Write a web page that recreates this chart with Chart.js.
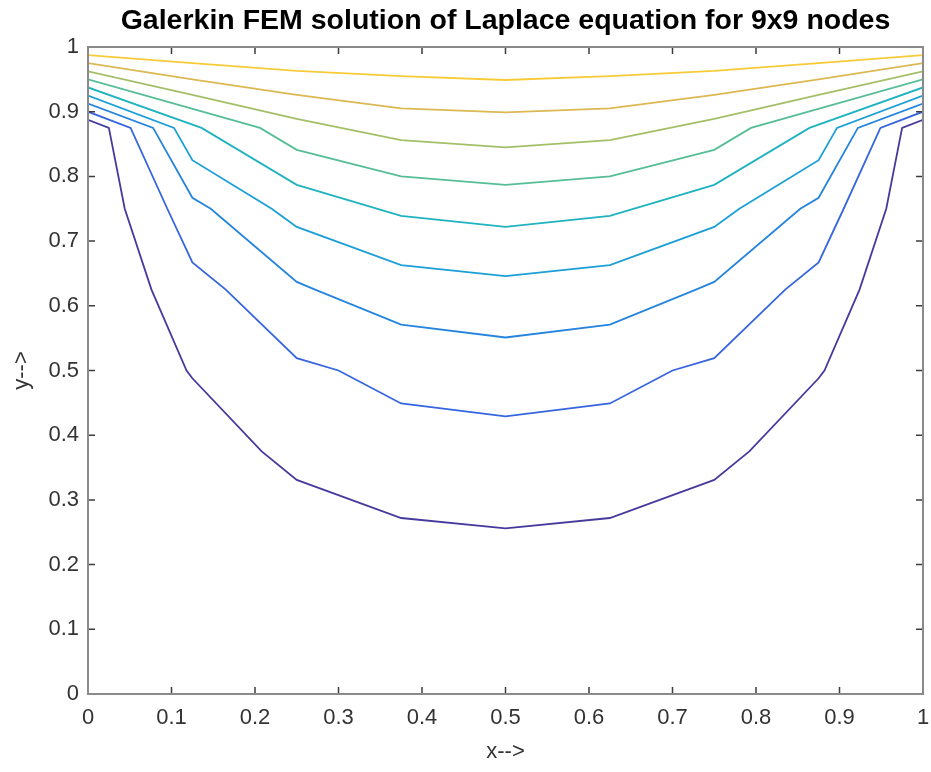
<!DOCTYPE html>
<html>
<head>
<meta charset="utf-8">
<title>Galerkin FEM contours</title>
<script src="https://cdn.jsdelivr.net/npm/chart.js@4/dist/chart.umd.min.js"></script>
<style>
    body { margin: 0; background: #fff; }
    #chartWrap { width: 931px; height: 772px; }
</style>
</head>
<body>
<div id="chartWrap"><canvas id="mychart" width="931" height="772"></canvas></div>
<script>
// contour levels (u = 0.1 ... 0.9) and their colours
const levels = ["0.1", "0.2", "0.3", "0.4", "0.5", "0.6", "0.7", "0.8", "0.9"];
const lineColors = ["#473a9d", "#3565df", "#2584dd", "#1b9fd6", "#1fb2c0",
    "#55be96", "#a3bf68", "#dcb852", "#f7cb38"];

const xTicks = [0, 0.1, 0.2, 0.3, 0.4, 0.5, 0.6, 0.7, 0.8, 0.9, 1];
const yTicks = [0, 0.1, 0.2, 0.3, 0.4, 0.5, 0.6, 0.7, 0.8, 0.9, 1];

// contour polylines (x and y of each vertex)
const x1 = [0, 0.025, 0.044, 0.076, 0.118, 0.125, 0.208, 0.25, 0.375, 0.5, 0.625, 0.75, 0.792, 0.875, 0.882, 0.924, 0.956, 0.975, 1];
const y1 = [0.8875, 0.875, 0.75, 0.625, 0.5, 0.488, 0.375, 0.331, 0.272, 0.256, 0.272, 0.331, 0.375, 0.488, 0.5, 0.625, 0.75, 0.875, 0.8875];

const x2 = [0, 0.051, 0.095, 0.125, 0.165, 0.25, 0.3, 0.375, 0.5, 0.625, 0.7, 0.75, 0.835, 0.875, 0.905, 0.949, 1];
const y2 = [0.9, 0.875, 0.75, 0.667, 0.625, 0.519, 0.5, 0.449, 0.429, 0.449, 0.5, 0.519, 0.625, 0.667, 0.75, 0.875, 0.9];

const x3 = [0, 0.078, 0.125, 0.147, 0.25, 0.272, 0.375, 0.5, 0.625, 0.728, 0.75, 0.853, 0.875, 0.922, 1];
const y3 = [0.9125, 0.875, 0.767, 0.75, 0.637, 0.625, 0.571, 0.551, 0.571, 0.625, 0.637, 0.75, 0.767, 0.875, 0.9125];

const x4 = [0, 0.103, 0.125, 0.22, 0.25, 0.375, 0.5, 0.625, 0.75, 0.78, 0.875, 0.897, 1];
const y4 = [0.925, 0.875, 0.825, 0.75, 0.722, 0.663, 0.646, 0.663, 0.722, 0.75, 0.825, 0.875, 0.925];

const x5 = [0, 0.136, 0.25, 0.375, 0.5, 0.625, 0.75, 0.864, 1];
const y5 = [0.9375, 0.875, 0.787, 0.739, 0.722, 0.739, 0.787, 0.875, 0.9375];

const x6 = [0, 0.206, 0.25, 0.375, 0.5, 0.625, 0.75, 0.794, 1];
const y6 = [0.95, 0.875, 0.841, 0.8, 0.787, 0.8, 0.841, 0.875, 0.95];

const x7 = [0, 0.125, 0.25, 0.375, 0.5, 0.625, 0.75, 0.875, 1];
const y7 = [0.9625, 0.926, 0.889, 0.856, 0.845, 0.856, 0.889, 0.926, 0.9625];

const x8 = [0, 0.125, 0.25, 0.375, 0.5, 0.625, 0.75, 0.875, 1];
const y8 = [0.975, 0.95, 0.926, 0.905, 0.899, 0.905, 0.926, 0.95, 0.975];

const x9 = [0, 0.125, 0.25, 0.375, 0.5, 0.625, 0.75, 0.875, 1];
const y9 = [0.9875, 0.975, 0.963, 0.955, 0.949, 0.955, 0.963, 0.975, 0.9875];

const lineXs = [x1, x2, x3, x4, x5, x6, x7, x8, x9];
const lineYs = [y1, y2, y3, y4, y5, y6, y7, y8, y9];

const fontFam = '"Liberation Sans", Arial, Helvetica, sans-serif';

const toPoints = function(xs, ys) {
    return xs.map((x, i) => ({ x: x, y: ys[i] }));
};

// matlab prints 0 and 1, not 1.0
const tickText = function(value) {
    return String(Number(value.toFixed(1)));
};

// MATLAB style box with inward ticks on all four sides
const axesBox = {
    id: 'axesBox',
    afterDatasetsDraw(chart) {
        const { ctx, chartArea: a, scales } = chart;
        const tl = 7;
        ctx.save();
        ctx.strokeStyle = '#3c3c3c';
        ctx.lineWidth = 1.5;
        ctx.beginPath();
        scales.x.ticks.forEach(t => {
            const px = scales.x.getPixelForValue(t.value);
            ctx.moveTo(px, a.bottom);
            ctx.lineTo(px, a.bottom - tl);
            ctx.moveTo(px, a.top);
            ctx.lineTo(px, a.top + tl);
        });
        scales.y.ticks.forEach(t => {
            const py = scales.y.getPixelForValue(t.value);
            ctx.moveTo(a.left, py);
            ctx.lineTo(a.left + tl, py);
            ctx.moveTo(a.right, py);
            ctx.lineTo(a.right - tl, py);
        });
        ctx.stroke();
        ctx.strokeStyle = '#8a8a8a';
        ctx.lineWidth = 2;
        ctx.strokeRect(a.left, a.top, a.right - a.left, a.bottom - a.top);
        ctx.restore();
    }
};

const main = function() {
    const ctx = document.getElementById('mychart').getContext('2d');
    const datasets = lineXs.map((xs, i) => ({
        label: levels[i],
        data: toPoints(xs, lineYs[i]),
        showLine: true,
        borderColor: lineColors[i],
        backgroundColor: lineColors[i],
        borderWidth: 1.8,
        pointRadius: 0,
        tension: 0
    }));

    new Chart(ctx, {
        type: 'scatter',
        data: { datasets: datasets },
        options: {
            responsive: false,
            animation: false,
            layout: { padding: { top: 0, right: 8, bottom: 0, left: 0 } },
            plugins: {
                legend: { display: false },
                tooltip: { enabled: false },
                title: {
                    display: true,
                    fullSize: false,
                    text: 'Galerkin FEM solution of Laplace equation for 9x9 nodes',
                    color: '#000',
                    font: { family: fontFam, size: 28.5, weight: 'bold', lineHeight: 1.2 },
                    padding: { top: 4, bottom: 8.8 }
                }
            },
            scales: {
                x: {
                    type: 'linear',
                    min: 0,
                    max: 1,
                    afterBuildTicks: s => { s.ticks = xTicks.map(v => ({ value: v })); },
                    afterFit: s => {
                        s.height = 78;
                        s.paddingLeft = 0;
                        s.paddingRight = 0;
                    },
                    grid: { display: false, drawTicks: false },
                    border: { display: false },
                    ticks: {
                        color: '#333',
                        font: { family: fontFam, size: 22 },
                        padding: 11,
                        maxRotation: 0,
                        autoSkip: false,
                        callback: tickText
                    },
                    title: {
                        display: true,
                        text: 'x-->',
                        color: '#333',
                        font: { family: fontFam, size: 22, lineHeight: 1.2 },
                        padding: { top: 0, bottom: 7 }
                    }
                },
                y: {
                    type: 'linear',
                    min: 0,
                    max: 1,
                    afterBuildTicks: s => { s.ticks = yTicks.map(v => ({ value: v })); },
                    afterFit: s => { s.width = 88; },
                    grid: { display: false, drawTicks: false },
                    border: { display: false },
                    ticks: {
                        color: '#333',
                        font: { family: fontFam, size: 22 },
                        padding: 9,
                        autoSkip: false,
                        callback: tickText
                    },
                    title: {
                        display: true,
                        text: 'y-->',
                        color: '#333',
                        font: { family: fontFam, size: 22, lineHeight: 1.2 },
                        padding: { top: 9, bottom: 0 }
                    }
                }
            }
        },
        plugins: [axesBox]
    });
};

document.addEventListener('DOMContentLoaded', main);
</script>
</body>
</html>
